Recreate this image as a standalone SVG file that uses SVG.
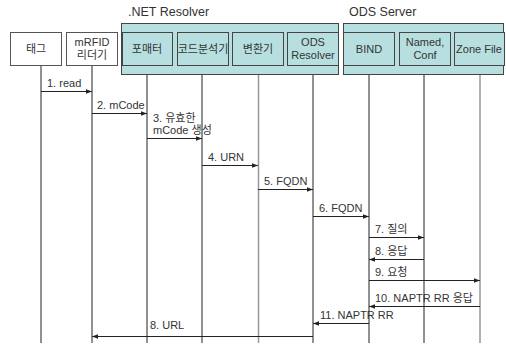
<svg xmlns="http://www.w3.org/2000/svg" width="506" height="345" viewBox="0 0 506 345">
<style>
text{font-family:"Liberation Sans","Noto Sans CJK KR",sans-serif;font-size:11px;fill:#333}
.title{font-size:12.5px}
.box{fill:#fff;stroke:#555;stroke-width:1}
.grp{fill:#b7dfe0;stroke:#444;stroke-width:1}
.in{fill:#b7dfe0;stroke:#444;stroke-width:1}
.life{stroke:#222;stroke-width:1}
.lifeg{stroke:#999;stroke-width:1.5}
.msg{stroke:#222;stroke-width:1;fill:none;marker-end:url(#ah)}
</style>
<defs>
<marker id="ah" viewBox="0 0 6 6" refX="6" refY="3" markerWidth="6" markerHeight="6" markerUnits="userSpaceOnUse" orient="auto">
<path d="M0,0.8 L6,3 L0,5.2 z" fill="#222"/>
</marker>
</defs>
<rect width="506" height="345" fill="#fff"/>
<g id="lifelines">
<line class="life" x1="41" y1="65" x2="41" y2="343"/>
<line class="life" x1="92" y1="65" x2="92" y2="343"/>
<line class="life" x1="147" y1="65" x2="147" y2="343"/>
<line class="life" x1="202" y1="65" x2="202" y2="343"/>
<line class="lifeg" x1="258.5" y1="65" x2="258.5" y2="343"/>
<line class="life" x1="313" y1="65" x2="313" y2="343"/>
<line class="life" x1="369" y1="65" x2="369" y2="343"/>
<line class="life" x1="424" y1="65" x2="424" y2="343"/>
<line class="lifeg" x1="480" y1="65" x2="480" y2="343"/>
</g>
<g id="net-resolver">
<rect class="grp" x="121.5" y="23.5" width="217" height="51"/>
<text class="title" x="128" y="16">.NET Resolver</text>
</g>
<g id="ods-server">
<rect class="grp" x="343.5" y="23.5" width="160" height="51"/>
<text class="title" x="349" y="16">ODS Server</text>
</g>
<g id="tag">
<rect class="box" x="10.5" y="32.5" width="51" height="33"/>
<text x="36" y="53" text-anchor="middle">태그</text>
</g>
<g id="mrfid">
<rect class="box" x="66.5" y="32.5" width="51" height="33"/>
<text x="92" y="46" text-anchor="middle">mRFID</text>
<text x="92" y="59" text-anchor="middle">리더기</text>
</g>
<g id="formatter">
<rect class="in" x="122.5" y="32.5" width="50" height="33"/>
<text x="147" y="53" text-anchor="middle">포매터</text>
</g>
<g id="code-analyzer">
<rect class="in" x="177.5" y="32.5" width="51" height="33"/>
<text x="203" y="53" text-anchor="middle">코드분석기</text>
</g>
<g id="converter">
<rect class="in" x="232.5" y="32.5" width="51" height="33"/>
<text x="258" y="53" text-anchor="middle">변환기</text>
</g>
<g id="ods-resolver">
<rect class="in" x="287.5" y="32.5" width="51" height="33"/>
<text x="313" y="46" text-anchor="middle">ODS</text>
<text x="313" y="59" text-anchor="middle">Resolver</text>
</g>
<g id="bind">
<rect class="in" x="343.5" y="32.5" width="51" height="33"/>
<text x="369" y="53" text-anchor="middle">BIND</text>
</g>
<g id="named-conf">
<rect class="in" x="399.5" y="32.5" width="51" height="33"/>
<text x="425" y="46" text-anchor="middle">Named,</text>
<text x="425" y="59" text-anchor="middle">Conf</text>
</g>
<g id="zone-file">
<rect class="in" x="454.5" y="32.5" width="50" height="33"/>
<text x="479" y="53" text-anchor="middle">Zone File</text>
</g>
<g id="connectors">
<line class="msg" x1="41" y1="91.5" x2="92" y2="91.5"/>
<text x="47" y="87">1. read</text>
<line class="msg" x1="92" y1="113.5" x2="147" y2="113.5"/>
<text x="97" y="109">2. mCode</text>
<line class="msg" x1="147" y1="138.5" x2="202" y2="138.5"/>
<text x="153" y="122">3. 유효한</text>
<text x="153" y="134">mCode 생성</text>
<line class="msg" x1="202" y1="165.5" x2="258" y2="165.5"/>
<text x="208" y="161">4. URN</text>
<line class="msg" x1="258" y1="189.5" x2="313" y2="189.5"/>
<text x="264" y="185">5. FQDN</text>
<line class="msg" x1="313" y1="216.5" x2="369" y2="216.5"/>
<text x="319" y="212">6. FQDN</text>
<line class="msg" x1="369" y1="237.5" x2="424" y2="237.5"/>
<text x="375" y="233">7. 질의</text>
<line class="msg" x1="424" y1="259.5" x2="369" y2="259.5"/>
<text x="375" y="255">8. 응답</text>
<line class="msg" x1="369" y1="280.5" x2="480" y2="280.5"/>
<text x="375" y="276">9. 요청</text>
<line class="msg" x1="480" y1="306.5" x2="369" y2="306.5"/>
<text x="375" y="302">10. NAPTR RR 응답</text>
<line class="msg" x1="369" y1="323.5" x2="313" y2="323.5"/>
<text x="320" y="319">11. NAPTR RR</text>
<line class="msg" x1="313" y1="336.5" x2="92" y2="336.5"/>
<text x="150" y="329">8. URL</text>
</g>
</svg>
